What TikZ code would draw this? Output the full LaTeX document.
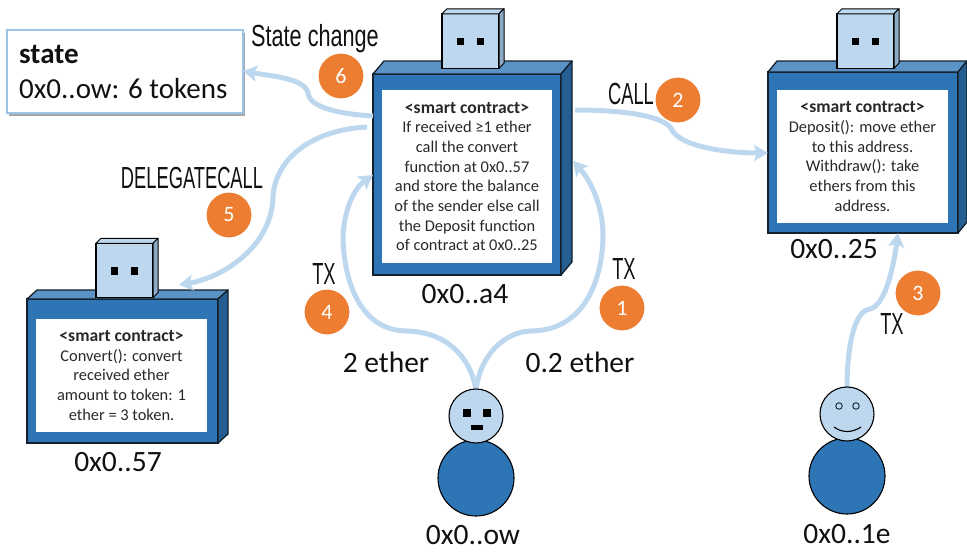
\documentclass[tikz,border=0pt]{standalone}
\usepackage{fontspec}
\setmainfont{Carlito}
\newfontfamily\condfont[FakeStretch=0.6]{Liberation Sans}
\newfontfamily\condwide[FakeStretch=0.71]{Liberation Sans}
\usetikzlibrary{arrows.meta,shadows}
\definecolor{bodyblue}{HTML}{2E75B6}
\definecolor{sideblue}{HTML}{255E91}
\definecolor{topblue}{HTML}{5B93C7}
\definecolor{paleblue}{HTML}{BDD7EE}
\definecolor{headside}{HTML}{8FAAC4}
\definecolor{badge}{HTML}{ED7D31}
\definecolor{ink}{HTML}{111111}
\definecolor{darkline}{HTML}{14202B}
\definecolor{statebd}{HTML}{9DC3E6}
\newcommand{\panelhead}{{\fontsize{17.6}{19.7}\selectfont\bfseries <smart contract>}}
\tikzset{
  front/.style={draw=darkline,line width=1.3pt,fill=bodyblue,inner sep=0pt,outer sep=0pt},
  topface/.style={draw=darkline,line width=1.3pt,fill=topblue,line join=round},
  sideface/.style={draw=darkline,line width=1.3pt,fill=sideblue,line join=round},
  panel/.style={fill=white,inner sep=0pt,outer sep=0pt,align=center,text=ink!90,font=\fontsize{16.4}{19.7}\selectfont},
  headfront/.style={draw=black,line width=1.3pt,fill=paleblue,inner sep=0pt,outer sep=0pt},
  headtop/.style={draw=black,line width=1pt,fill=paleblue,line join=round},
  headsidef/.style={draw=black,line width=1pt,fill=headside,line join=round},
  eye/.style={fill=black,inner sep=0pt,minimum size=7.5pt},
  addr/.style={text=ink,font=\fontsize{29.5}{32}\selectfont,inner sep=0pt},
  cond/.style={text=ink,font=\fontsize{30.5}{32}\condfont,inner sep=0pt},
  numdot/.style={circle,fill=badge,draw=white,line width=1pt,minimum size=46pt,inner sep=0pt,text=white,font=\fontsize{22}{24}\selectfont},
  flow/.style={draw=paleblue,line width=5pt,-{Stealth[length=14pt,width=16pt,inset=3pt]}},
  headball/.style={circle,draw=black,line width=1.1pt,fill=paleblue,minimum size=54pt,inner sep=0pt},
  bodyball/.style={circle,draw=black,line width=1.1pt,fill=bodyblue,minimum size=76pt,inner sep=0pt},
}
\newcommand{\contractbox}[7]{%
  \node[front,minimum width=#4pt,minimum height=#5pt] (#1) at (#2,#3) {};
  \draw[topface] (#1.north west) -- ++(#6,-#7) -- ++(#4,0) -- (#1.north east) -- cycle;
  \draw[sideface] (#1.north east) -- ++(#6,-#7) -- ++(0,#5) -- (#1.south east) -- cycle;
}
\newcommand{\headbox}[3]{%
  \node[headfront,minimum width=57pt,minimum height=54.5pt] (#1) at (#2,#3) {};
  \draw[headtop] (#1.north west) -- ++(5,-5) -- ++(57,0) -- (#1.north east) -- cycle;
  \draw[headsidef] (#1.north east) -- ++(5,-5) -- ++(0,54.5) -- (#1.south east) -- cycle;
  \node[eye] (#1l) at ([xshift=-10pt,yshift=-0.5pt]#1.center) {};
  \node[eye] (#1r) at ([xshift=10pt,yshift=-0.5pt]#1.center) {};
}
\begin{document}
\begin{tikzpicture}[x=1pt,y=-1pt]
\useasboundingbox (0,0) rectangle (967,552);
% contracts
\contractbox{main}{467}{174.5}{188}{201}{11}{13}
\contractbox{rightc}{863}{152.5}{190}{161}{9}{11}
\contractbox{leftc}{122.5}{371}{191}{144}{10}{9}
\headbox{mainh}{470.5}{41}
\headbox{righth}{865.5}{41}
\headbox{lefth}{124.5}{270.5}
\node[panel,minimum width=170pt,minimum height=173pt] (mainp) at (467,176.5) {\panelhead\\If received ≥1 ether\\call the convert\\function at 0x0..57\\and store the balance\\of the sender else call\\the Deposit function\\of contract at 0x0..25};
\node[panel,minimum width=171pt,minimum height=133pt] (rightp) at (862.5,156.5) {\panelhead\\Deposit(): move ether\\to this address.\\Withdraw(): take\\ethers from this\\address.};
\node[panel,minimum width=171pt,minimum height=113pt] (leftp) at (121.5,375.5) {\panelhead\\Convert(): convert\\received ether\\amount to token: 1\\ether = 3 token.};
% state
\node[draw=statebd,line width=1.3pt,fill=white,minimum width=236pt,minimum height=83pt,inner sep=0pt,drop shadow={shadow xshift=2pt,shadow yshift=-2.5pt,fill=black,opacity=.35}] (statebox) at (125,71.5) {};
\node[anchor=west,inner sep=0pt,text=ink,font=\fontsize{29}{32}\selectfont\bfseries] (statet) at (19,54) {state};
\node[anchor=west,inner sep=0pt,text=ink,font=\fontsize{29}{32}\selectfont] (statev) at (19,89) {0x0..ow: 6 tokens};
% end points
\coordinate (p1) at (476,390);
\coordinate (p3) at (847,390);
\coordinate (t1) at (573,161);
\coordinate (t4) at (373,175);
\coordinate (s6) at (373,116);
\coordinate (t6) at (243,71);
\coordinate (s5) at (367,127);
\coordinate (t5) at (179,285);
\coordinate (s2) at (575,110);
\coordinate (t2) at (768,153);
\coordinate (t3) at (898,233);
\coordinate (m1) at (530,331);
\coordinate (m4) at (407,331);
\coordinate (m6) at (308,93);
\coordinate (m5) at (273,197);
\coordinate (m2) at (672,130);
\coordinate (m3) at (870,309);
% connectors
\draw[flow] (p1) .. controls (480,355) and (505,332) .. (m1) .. controls (590,331) and (603,270) .. (603,235) .. controls (603,205) and (590,180) .. (t1);
\draw[flow] (p1) .. controls (470,355) and (445,332) .. (m4) .. controls (365,331) and (345,290) .. (343,240) .. controls (343,215) and (352,190) .. (t4);
\draw[flow] (s6) .. controls (340,114) and (310,108) .. (m6) .. controls (305,78) and (270,76) .. (t6);
\draw[flow] (s5) .. controls (310,130) and (275,160) .. (m5) .. controls (272,245) and (225,277) .. (t5);
\draw[flow] (s2) .. controls (620,110) and (665,115) .. (m2) .. controls (680,146) and (725,153) .. (t2);
\draw[flow] (p3) .. controls (847,350) and (853,311) .. (m3) .. controls (885,305) and (893,270) .. (t3);
% people
\node[bodyball] (lbody) at (476,478) {};
\node[headball] (lhead) at (476,416) {};
\node[eye] (leye1) at (467,413) {};
\node[eye] (leye2) at (487,413) {};
\node[fill=black,inner sep=0pt,minimum width=12pt,minimum height=5pt] (lmouth) at (477,427) {};
\node[bodyball] (rbody) at (847,476) {};
\node[headball] (rhead) at (847,414) {};
\node[circle,draw=darkline,line width=.9pt,fill=paleblue,minimum size=6.5pt,inner sep=0pt] (reye1) at (839,406) {};
\node[circle,draw=darkline,line width=.9pt,fill=paleblue,minimum size=6.5pt,inner sep=0pt] (reye2) at (856,406) {};
\draw[black,line width=1.1pt] (834,427) .. controls (842,433) and (852,433) .. (861,427);
% badges
\node[numdot] (n1) at (622,308) {1};
\node[numdot] (n2) at (678,100) {2};
\node[numdot] (n3) at (918,293) {3};
\node[numdot] (n4) at (327,312) {4};
\node[numdot] (n5) at (229,215) {5};
\node[numdot] (n6) at (341,76) {6};
% labels
\node[addr] (a1) at (465,294) {0x0..a4};
\node[addr] (a2) at (834,249) {0x0..25};
\node[addr] (a3) at (118,462) {0x0..57};
\node[addr] (a4) at (473,535.5) {0x0..ow};
\node[addr] (a5) at (847,534.5) {0x0..1e};
\node[addr] (e1) at (386,362) {2 ether};
\node[addr] (e2) at (580,362) {0.2 ether};
\node[cond,font=\fontsize{30.5}{32}\condwide] (l1) at (315,39) {State change};
\node[cond] (l2) at (192,178) {DELEGATECALL};
\node[cond] (l3) at (631,94) {CALL};
\node[cond] (l4) at (324,274) {TX};
\node[cond] (l5) at (624,269) {TX};
\node[cond] (l6) at (892,324) {TX};
\end{tikzpicture}
\end{document}
